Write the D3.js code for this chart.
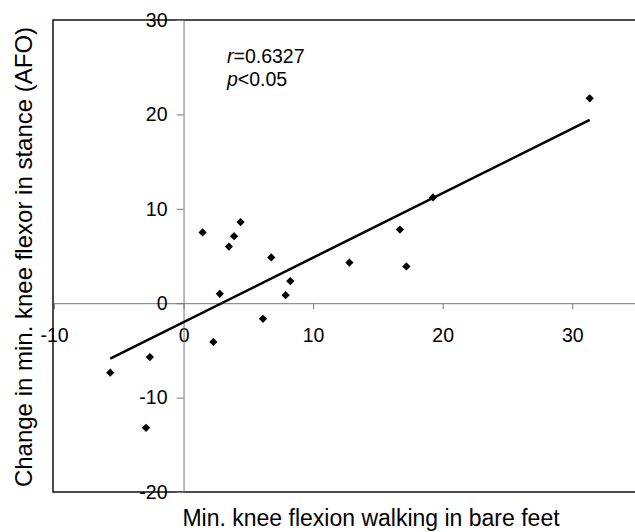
<!DOCTYPE html>
<html>
<head>
<meta charset="utf-8">
<script src="https://cdn.jsdelivr.net/npm/d3@7"></script>
<style>
  body { margin: 0; background: #fff; }
  svg { font-family: "Liberation Sans", Arial, sans-serif; }
</style>
</head>
<body>
<script>
// Size of the picture
var w = 635;
var h = 532;

// Data
var xValues = [1.47, 2.8, 2.3, -2.6, -5.66, -2.9, 3.5, 3.9, 4.4, 6.77, 8.24, 7.88, 6.13, 12.8, 16.7, 17.2, 19.25, 31.35];
var yValues = [7.5, 1.0, -4.1, -5.7, -7.36, -13.2, 6.0, 7.1, 8.6, 4.85, 2.34, 0.85, -1.66, 4.3, 7.8, 3.9, 11.2, 21.7];
var xTicks = [-10, 0, 10, 20, 30];
var yTicks = [-20, -10, 0, 10, 20, 30];
var statLines = ["r", "=0.6327", "p", "<0.05"];

var points = xValues.map(function(x, i) { return { x: x, y: yValues[i] }; });

// Scales
var xScale = d3.scaleLinear().domain([-10, 35]).range([54, 637]);
var yScale = d3.scaleLinear().domain([-20, 30]).range([492, 20]);

var svg = d3.select("body").append("svg")
    .attr("width", w)
    .attr("height", h);

// Frame around the plot area
svg.append("rect")
    .attr("x", 53)
    .attr("y", yScale(30))
    .attr("width", 640 - 53)
    .attr("height", yScale(-20) - yScale(30))
    .attr("fill", "none")
    .attr("stroke", "#111")
    .attr("stroke-width", 1.5);

// plain hyphen for negatives, like the original
var plain = function(d) { return String(d); };

// x axis through y = 0
var xAxis = svg.append("g")
    .attr("transform", "translate(0," + yScale(0) + ")")
    .call(d3.axisBottom(xScale).tickValues(xTicks).tickFormat(plain)
        .tickSize(6).tickSizeOuter(0).tickPadding(19));

// y axis through x = 0
var yAxis = svg.append("g")
    .attr("transform", "translate(" + xScale(0) + ",0)")
    .call(d3.axisLeft(yScale).tickValues(yTicks).tickFormat(plain)
        .tickSize(7).tickSizeOuter(0).tickPadding(9));

[xAxis, yAxis].forEach(function(g) {
    g.select(".domain").attr("stroke", "#777").attr("stroke-width", 1);
    g.selectAll(".tick line").attr("stroke", "#777");
    g.selectAll(".tick text")
        .attr("fill", "#000")
        .style("font-family", "'Liberation Sans', Arial, sans-serif")
        .style("font-size", "19.5px");
});

// Least squares line fitted to the points
var mx = d3.mean(xValues), my = d3.mean(yValues);
var sxy = d3.sum(points, function(d) { return (d.x - mx) * (d.y - my); });
var sxx = d3.sum(points, function(d) { return (d.x - mx) * (d.x - mx); });
var slope = sxy / sxx;
var intercept = my - slope * mx;
var xExt = d3.extent(xValues);

svg.append("line")
    .attr("x1", xScale(xExt[0]))
    .attr("y1", yScale(intercept + slope * xExt[0]))
    .attr("x2", xScale(xExt[1]))
    .attr("y2", yScale(intercept + slope * xExt[1]))
    .attr("stroke", "#000")
    .attr("stroke-width", 2.5);

// Diamond markers
svg.selectAll("path.pt")
    .data(points)
    .enter()
    .append("path")
    .attr("class", "pt")
    .attr("d", d3.symbol().type(d3.symbolSquare).size(34))
    .attr("transform", function(d) {
        return "translate(" + xScale(d.x) + "," + yScale(d.y) + ") rotate(45)";
    })
    .attr("fill", "#000");

// Statistics text
var stat1 = svg.append("text").attr("x", 227).attr("y", 63).style("font-size", "19.5px");
stat1.append("tspan").style("font-style", "italic").text(statLines[0]);
stat1.append("tspan").text(statLines[1]);
var stat2 = svg.append("text").attr("x", 227).attr("y", 86).style("font-size", "19.5px");
stat2.append("tspan").style("font-style", "italic").text(statLines[2]);
stat2.append("tspan").text(statLines[3]);

// Axis titles
svg.append("text")
    .attr("x", 371)
    .attr("y", 526)
    .attr("text-anchor", "middle")
    .style("font-size", "23px")
    .text("Min. knee flexion walking in bare feet");

svg.append("text")
    .attr("transform", "translate(32,257) rotate(-90)")
    .attr("text-anchor", "middle")
    .style("font-size", "24px")
    .text("Change in min. knee flexor in stance (AFO)");
</script>
</body>
</html>
